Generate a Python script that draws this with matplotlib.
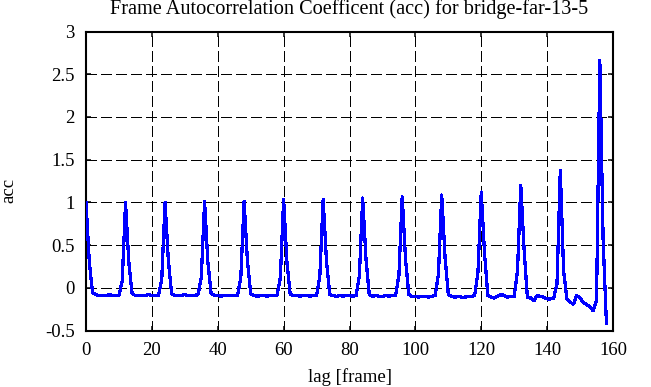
import numpy as np
import matplotlib
matplotlib.use("Agg")
import matplotlib.pyplot as plt

# ---- data (autocorrelation coefficient per lag) ----
acc_values = [
    # 0-11
    1.00, 0.30, -0.06, -0.08, -0.09, -0.09, -0.09, -0.08, -0.09, -0.09, -0.09, 0.08,
    # 12-23
    1.00, 0.30, -0.07, -0.09, -0.09, -0.09, -0.09, -0.08, -0.09, -0.09, -0.09, 0.10,
    # 24-35
    1.00, 0.32, -0.07, -0.09, -0.09, -0.09, -0.08, -0.09, -0.09, -0.09, -0.08, 0.12,
    # 36-47
    1.01, 0.30, -0.07, -0.09, -0.09, -0.10, -0.09, -0.09, -0.09, -0.09, -0.09, 0.12,
    # 48-59
    1.01, 0.32, -0.07, -0.09, -0.10, -0.09, -0.09, -0.10, -0.09, -0.09, -0.09, 0.12,
    # 60-71
    1.03, 0.30, -0.08, -0.09, -0.09, -0.10, -0.09, -0.09, -0.10, -0.09, -0.09, 0.14,
    # 72-83
    1.035, 0.32, -0.08, -0.09, -0.10, -0.09, -0.10, -0.09, -0.09, -0.10, -0.09, 0.14,
    # 84-95
    1.05, 0.34, -0.08, -0.10, -0.09, -0.10, -0.10, -0.09, -0.10, -0.09, -0.09, 0.15,
    # 96-107
    1.065, 0.34, -0.08, -0.10, -0.10, -0.11, -0.10, -0.10, -0.11, -0.10, -0.09, 0.16,
    # 108-119
    1.085, 0.36, -0.08, -0.10, -0.11, -0.10, -0.11, -0.11, -0.10, -0.10, -0.09, 0.18,
    # 120-131
    1.12, 0.40, -0.09, -0.11, -0.12, -0.10, -0.08, -0.09, -0.11, -0.10, -0.10, 0.20,
    # 132-143
    1.20, 0.45, -0.11, -0.12, -0.15, -0.09, -0.10, -0.11, -0.13, -0.13, -0.12, 0.05,
    # 144-155
    1.375, 0.20, -0.13, -0.17, -0.19, -0.09, -0.12, -0.17, -0.20, -0.22, -0.27, -0.15,
    # 156-158
    2.66, 0.56, -0.42,
]
lags = np.arange(len(acc_values))

x_ticks = [0, 20, 40, 60, 80, 100, 120, 140, 160]
y_ticks = [-0.5, 0, 0.5, 1, 1.5, 2, 2.5, 3]
y_tick_labels = ["-0.5", "0", "0.5", "1", "1.5", "2", "2.5", "3"]

title_text = "Frame Autocorrelation Coefficent (acc) for bridge-far-13-5"
x_label = "lag [frame]"
y_label = "acc"

# ---- style ----
plt.rcParams["font.family"] = ["Liberation Serif", "DejaVu Serif"]
plt.rcParams["font.size"] = 13
plt.rcParams["lines.scale_dashes"] = False

W, H = 651, 387
fig = plt.figure(figsize=(W / 100, H / 100), dpi=100)
left, right, top, bottom = 86, 613, 31.5, 330.5
ax = fig.add_axes([left / W, 1 - bottom / H, (right - left) / W, (bottom - top) / H])

ax.plot(lags, acc_values, color="#0000ff", lw=1.6, zorder=3, antialiased=False)

ax.set_xlim(0, 160)
ax.set_ylim(-0.5, 3)
ax.set_xticks(x_ticks)
ax.set_yticks(y_ticks)
ax.set_yticklabels(y_tick_labels)

ax.grid(True, color="black", lw=0.75, linestyle=(0, (7.2, 2.9)), zorder=1,
        antialiased=False)
ax.set_axisbelow(True)

for sp in ax.spines.values():
    sp.set_linewidth(1.5)
    sp.set_color("black")

ax.tick_params(direction="in", length=3.6, width=1.1, top=True, right=True,
               pad=8, labelsize=13.5, colors="black")

ax.set_title(title_text, fontsize=14.6, pad=12.5)
ax.set_xlabel(x_label, fontsize=13.5)
ax.xaxis.set_label_coords(0.5, -0.125)
ax.set_ylabel(y_label, fontsize=13.5)
ax.yaxis.set_label_coords(-0.13, 0.47)

fig.savefig("out.png", dpi=100)
